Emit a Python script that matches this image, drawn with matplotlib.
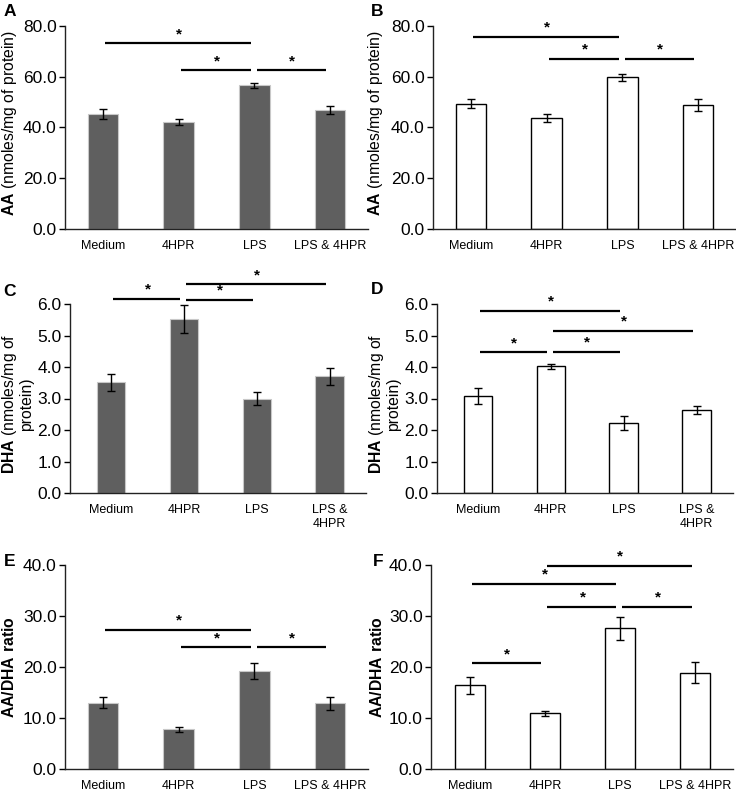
import matplotlib
matplotlib.use("Agg")
import matplotlib.pyplot as plt

plt.rcParams['font.family'] = ['Liberation Sans', 'DejaVu Sans']
plt.rcParams['mathtext.fontset'] = 'custom'
plt.rcParams['mathtext.rm'] = 'Liberation Sans'
plt.rcParams['mathtext.bf'] = 'Liberation Sans:bold'

categories = ["Medium", "4HPR", "LPS", "LPS & 4HPR"]
categories_wrap = ["Medium", "4HPR", "LPS", "LPS &\n4HPR"]

# Panel A (grey) / B (white): AA
aa_a = [45.3, 42.3, 56.6, 47.0]
aa_a_err = [2.1, 1.2, 1.0, 1.6]
aa_b = [49.4, 43.8, 59.8, 48.9]
aa_b_err = [1.7, 1.6, 1.4, 2.5]
# Panel C / D: DHA
dha_c = [3.52, 5.52, 3.00, 3.70]
dha_c_err = [0.27, 0.45, 0.20, 0.28]
dha_d = [3.08, 4.02, 2.22, 2.63]
dha_d_err = [0.24, 0.07, 0.23, 0.13]
# Panel E / F: AA/DHA ratio
ratio_e = [13.0, 7.8, 19.2, 12.9]
ratio_e_err = [1.1, 0.5, 1.5, 1.3]
ratio_f = [16.4, 10.9, 27.6, 18.9]
ratio_f_err = [1.7, 0.5, 2.3, 2.0]

# significance bars: (from category, to category, level)
sig_a = [(0, 2, 73.3), (1, 2, 62.6), (2, 3, 62.6)]
sig_b = [(0, 2, 75.8), (1, 2, 67.0), (2, 3, 67.0)]
sig_c = [(0, 1, 6.16), (1, 2, 6.14), (1, 3, 6.63)]
sig_d = [(0, 2, 5.79), (1, 3, 5.15), (0, 1, 4.47), (1, 2, 4.48)]
sig_e = [(0, 2, 27.3), (1, 2, 23.9), (2, 3, 23.9)]
sig_f = [(1, 3, 39.9), (0, 2, 36.3), (1, 2, 31.8), (2, 3, 31.8), (0, 1, 20.7)]

W, H = 736, 793
fig = plt.figure(figsize=(W / 100, H / 100), dpi=100)


def make_axes(left, right, top, bottom):
    return fig.add_axes([left / W, 1 - bottom / H, (right - left) / W, (bottom - top) / H])


def panel(rect, vals, errs, sigs, labels, ymax, ystep, ylabel, xlim, width,
          filled, letter, letter_xy, label_xy):
    ax = make_axes(*rect)
    x = list(range(len(vals)))
    if filled:
        ax.bar(x, vals, width=width, color='#5f5f5f', edgecolor='#c8c8c8',
               linewidth=0.8, zorder=2)
    else:
        ax.bar(x, vals, width=width, color='white', edgecolor='black',
               linewidth=1.0, zorder=2)
    ax.errorbar(x, vals, yerr=errs, fmt='none', ecolor='black', elinewidth=1.0,
                capsize=2.8, capthick=1.0, zorder=3)
    ax.set_xlim(*xlim)
    ax.set_ylim(0, ymax)
    ticks = [i * ystep for i in range(int(round(ymax / ystep)) + 1)]
    ax.set_yticks(ticks)
    ax.set_yticklabels([f"{t:.1f}" for t in ticks], fontsize=12.5)
    ax.set_xticks(x)
    ax.set_xticklabels(labels, fontsize=9)
    ax.tick_params(axis='x', length=0, pad=8)
    ax.tick_params(axis='y', length=4, width=1, direction='out', pad=2)
    for s in ['top', 'right']:
        ax.spines[s].set_visible(False)
    for s in ['left', 'bottom']:
        ax.spines[s].set_color('#222222')
        ax.spines[s].set_linewidth(1.0)
    ax.set_ylabel(ylabel, fontsize=11.3, linespacing=0.95)
    ax.yaxis.set_label_coords(*label_xy)
    for i, j, lvl in sigs:
        ax.plot([i + 0.03, j - 0.05], [lvl, lvl], color='black', lw=1.6,
                clip_on=False, zorder=4, solid_capstyle='butt')
        ax.annotate('*', xy=((i + j) / 2, lvl), xytext=(0, 6.5),
                    textcoords='offset points', ha='center', va='center',
                    fontsize=11, fontweight='bold', annotation_clip=False)
    fig.text(letter_xy[0] / W, 1 - letter_xy[1] / H, letter, fontsize=12.5,
             fontweight='bold', ha='center', va='center')
    return ax


aa_label = r'$\mathbf{AA}$ (nmoles/mg of protein)'
dha_label = r'$\mathbf{DHA}$ (nmoles/mg of' + '\n' + 'protein)'
ratio_label = r'$\mathbf{AA/DHA\ ratio}$'

panel((65, 368, 26, 229), aa_a, aa_a_err, sig_a, categories, 80, 20, aa_label,
      (-0.5, 3.5), 0.4, True, 'A', (10, 12), (-0.152, 0.52))
panel((433, 736, 26, 229), aa_b, aa_b_err, sig_b, categories, 80, 20, aa_label,
      (-0.5, 3.5), 0.4, False, 'B', (377, 12), (-0.158, 0.52))
panel((70, 366, 304, 493), dha_c, dha_c_err, sig_c, categories_wrap, 6, 1, dha_label,
      (-0.565, 3.5), 0.39, True, 'C', (10, 291), (-0.122, 0.47))
panel((437, 733, 304, 493), dha_d, dha_d_err, sig_d, categories_wrap, 6, 1, dha_label,
      (-0.56, 3.5), 0.39, False, 'D', (377, 290), (-0.122, 0.47))
panel((65, 368, 565, 769), ratio_e, ratio_e_err, sig_e, categories, 40, 10, ratio_label,
      (-0.5, 3.5), 0.4, True, 'E', (10, 562), (-0.158, 0.5))
panel((431, 733, 565, 769), ratio_f, ratio_f_err, sig_f, categories, 40, 10, ratio_label,
      (-0.516, 3.5), 0.4, False, 'F', (378, 561), (-0.152, 0.5))

fig.savefig('out.png', dpi=100)
